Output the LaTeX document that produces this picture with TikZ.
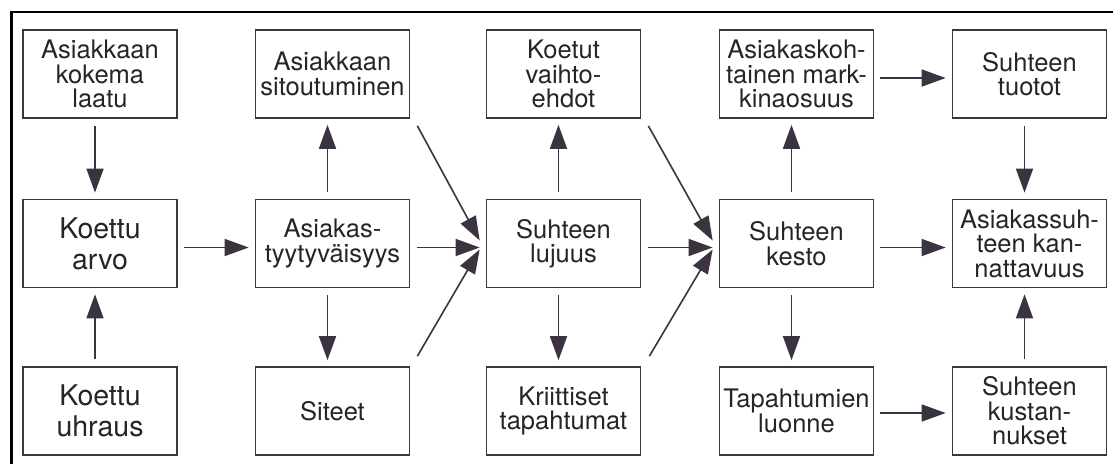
\documentclass[tikz,border=0pt]{standalone}
\usepackage{fontspec}
\setmainfont{TeX Gyre Heros}
\usetikzlibrary{arrows.meta,calc}
\definecolor{boxgrey}{HTML}{3A383C}
\definecolor{textgrey}{HTML}{262428}
\definecolor{arrowgrey}{HTML}{3B3340}
\begin{document}
\begin{tikzpicture}[x=1pt,y=-1pt,
  box/.style={draw=boxgrey, line width=1.7pt, minimum width=154pt,
    minimum height=88pt, inner sep=0pt, align=center, text=textgrey,
    font=\fontsize{25.5}{24.5}\selectfont},
  bigbox/.style={box, font=\fontsize{28.5}{31}\selectfont},
  arr/.style={draw=arrowgrey, line width=1.6pt,
    -{Triangle[length=24pt,width=17pt,fill=arrowgrey]}}]
\useasboundingbox (0,0) rectangle (1113,464);

% outer frame: top and left rules only
\draw[line width=2.6pt, black] (11.5,464) -- (11.5,12) -- (1113,12);

% column 1
\node[box]    (laatu)  at (100,74)      {Asiakkaan\\kokema\\laatu};
\node[bigbox] (arvo)   at (100,243.5)   {Koettu\\arvo};
\node[bigbox] (uhraus) at (100,411)     {Koettu\\uhraus};
% column 2
\node[box] (sitout) at (332.5,74)    {Asiakkaan\\sitoutuminen};
\node[box] (tyyt)   at (332.5,243.5) {Asiakas-\\tyytyväisyys};
\node[box] (siteet) at (332.5,411)   {Siteet};
% column 3
\node[box] (vaiht)  at (563.5,74)    {Koetut\\vaihto-\\ehdot};
\node[box] (lujuus) at (563.5,243.5) {Suhteen\\lujuus};
\node[box] (kriit)  at (563.5,411)   {Kriittiset\\tapahtumat};
% column 4
\node[box] (osuus)  at (796.5,74)    {Asiakaskoh-\\tainen mark-\\kinaosuus};
\node[box] (kesto)  at (796.5,243.5) {Suhteen\\kesto};
\node[box] (luonne) at (796.5,411)   {Tapahtumien\\luonne};
% column 5
\node[box] (tuotot) at (1029.5,74)    {Suhteen\\tuotot};
\node[box] (kannat) at (1029.5,243.5) {Asiakassuh-\\teen kan-\\nattavuus};
\node[box] (kust)   at (1029.5,411)   {Suhteen\\kustan-\\nukset};

% vertical links
\draw[arr] ($(laatu.south)+(-5,7)$)   -- ($(arvo.north)+(-5,-6)$);
\draw[arr] ($(uhraus.north)+(-5,-7)$) -- ($(arvo.south)+(-5,6)$);
\draw[arr] ($(tyyt.north)+(-5,-7)$)   -- ($(sitout.south)+(-5,6)$);
\draw[arr] ($(tyyt.south)+(-5,7)$)    -- ($(siteet.north)+(-5,-6)$);
\draw[arr] ($(lujuus.north)+(-5,-7)$) -- ($(vaiht.south)+(-5,6)$);
\draw[arr] ($(lujuus.south)+(-5,7)$)  -- ($(kriit.north)+(-5,-6)$);
\draw[arr] ($(kesto.north)+(-5,-7)$)  -- ($(osuus.south)+(-5,6)$);
\draw[arr] ($(kesto.south)+(-5,7)$)   -- ($(luonne.north)+(-5,-6)$);
\draw[arr] ($(tuotot.south)+(-5,7)$)  -- ($(kannat.north)+(-5,-6)$);
\draw[arr] ($(kust.north)+(-5,-7)$)   -- ($(kannat.south)+(-5,6)$);

% horizontal links
\draw[arr] ($(arvo.east)+(6,4)$)   -- ($(tyyt.west)+(-6,4)$);
\draw[arr] ($(tyyt.east)+(7,4)$)   -- ($(lujuus.west)+(-6,4)$);
\draw[arr] ($(lujuus.east)+(7,4)$) -- ($(kesto.west)+(-6,4)$);
\draw[arr] ($(osuus.east)+(6,4)$)  -- ($(tuotot.west)+(-6,4)$);
\draw[arr] ($(kesto.east)+(6,4)$)  -- ($(kannat.west)+(-6,4)$);
\draw[arr] ($(luonne.east)+(6,2)$) -- ($(kust.west)+(-6,2)$);

% diagonal links converging on the middle row
\draw[arr] ($(sitout.south east)+(7,7)$)  -- ($(lujuus.west)+(-6,-3)$);
\draw[arr] ($(siteet.north east)+(7,-10)$) -- ($(lujuus.west)+(-6,6)$);
\draw[arr] ($(vaiht.south east)+(7,7)$)   -- ($(kesto.west)+(-6,-3)$);
\draw[arr] ($(kriit.north east)+(8,-10)$) -- ($(kesto.west)+(-6,6)$);
\end{tikzpicture}
\end{document}
